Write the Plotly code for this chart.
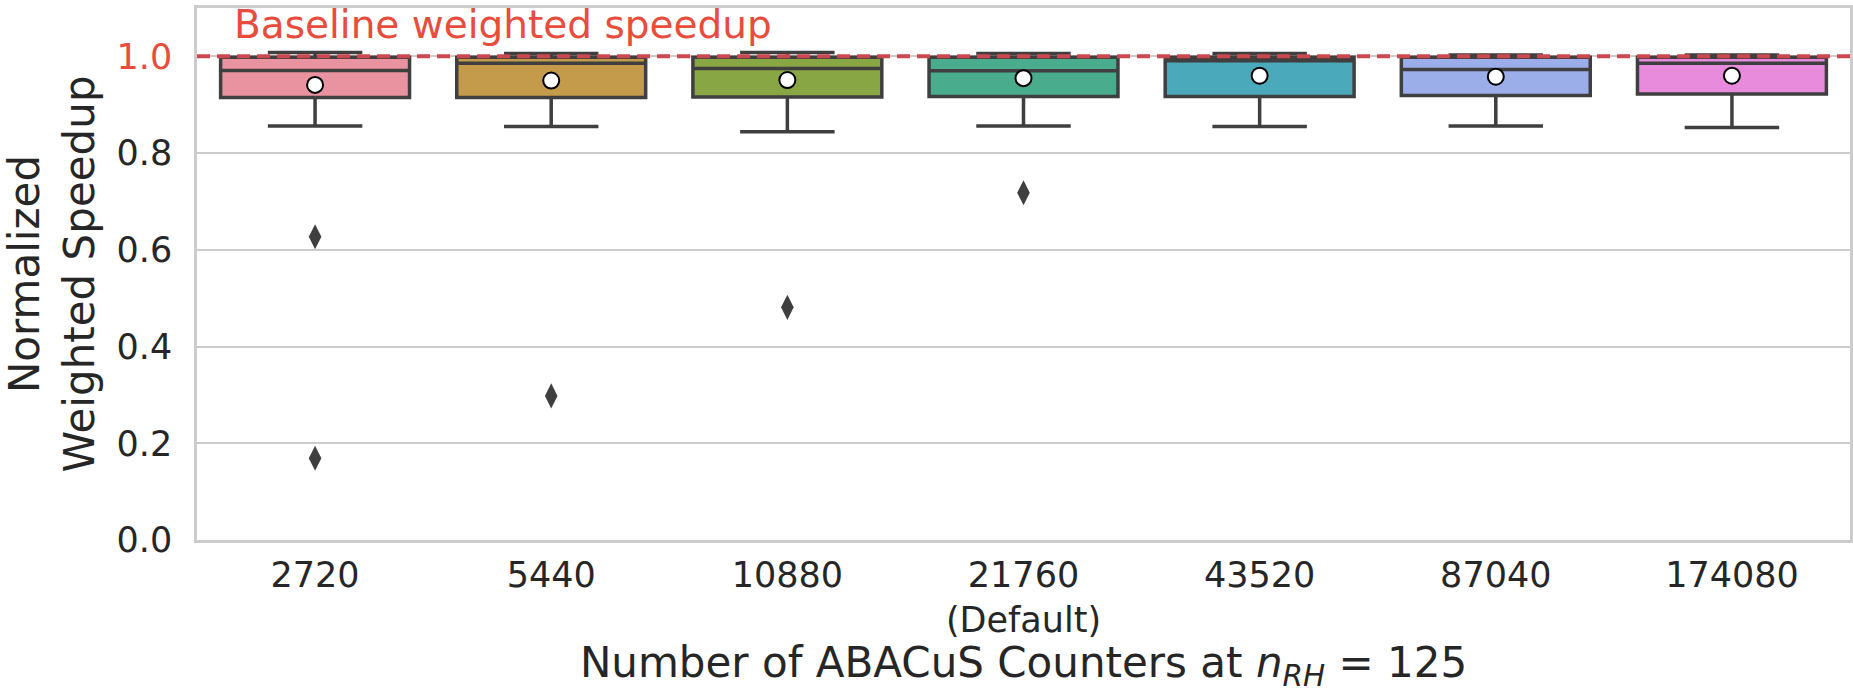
import plotly.graph_objects as go

# ---- data ----
categories = ["2720", "5440", "10880", "21760", "43520", "87040", "174080"]
tick_labels = ["2720", "5440", "10880", "21760<br>(Default)", "43520", "87040", "174080"]
q1_vals = [0.915, 0.915, 0.916, 0.917, 0.917, 0.919, 0.922]
median_vals = [0.971, 0.986, 0.975, 0.970, 0.991, 0.973, 0.986]
q3_vals = [0.998, 0.998, 0.998, 0.998, 0.998, 0.998, 0.998]
lower_whisker = [0.856, 0.855, 0.844, 0.856, 0.855, 0.856, 0.853]
upper_whisker = [1.008, 1.006, 1.008, 1.006, 1.006, 1.003, 1.003]
mean_vals = [0.941, 0.950, 0.951, 0.955, 0.960, 0.958, 0.960]
outlier_cats = ["2720", "2720", "5440", "10880", "21760"]
outlier_vals = [0.627, 0.169, 0.298, 0.481, 0.718]
box_colors = ["#e8939f", "#c49a4b", "#88a643", "#48ac8d", "#4aa9ba", "#9caeea", "#e98bdc"]
y_ticks = [0.0, 0.2, 0.4, 0.6, 0.8, 1.0]
baseline = 1.0

FONT = "DejaVu Sans"
TEXT = "#262626"
RED = "#e74c3c"
EDGE = "#3f3f3f"

fig = go.Figure()
for i, cat in enumerate(categories):
    fig.add_trace(go.Box(
        x=[cat], q1=[q1_vals[i]], median=[median_vals[i]], q3=[q3_vals[i]],
        lowerfence=[lower_whisker[i]], upperfence=[upper_whisker[i]],
        fillcolor=box_colors[i], line=dict(color=EDGE, width=3.5),
        width=0.8, whiskerwidth=0.5, boxpoints=False, showlegend=False,
        hoverinfo="skip"))

fig.add_trace(go.Scatter(
    x=outlier_cats, y=outlier_vals, mode="markers", showlegend=False,
    marker=dict(symbol="diamond-tall", size=18, color=EDGE, line=dict(width=0))))

fig.add_trace(go.Scatter(
    x=categories, y=mean_vals, mode="markers", showlegend=False,
    marker=dict(symbol="circle", size=16, color="white",
                line=dict(color="black", width=2))))

fig.add_shape(type="line", xref="paper", yref="y", x0=0, x1=1, y0=baseline, y1=baseline,
              line=dict(color="#c9494e", width=4, dash="13px,7px"), layer="above")

fig.add_annotation(text="Baseline weighted speedup", xref="paper", yref="paper",
                   x=0.0212, y=0.9695, xanchor="left", yanchor="middle",
                   showarrow=False, font=dict(family=FONT, size=39, color=RED))

y_ticktext = [f"{v:.1f}" for v in y_ticks]
y_ticktext[-1] = f"<span style='color:{RED}'>{y_ticks[-1]:.1f}</span>"

fig.update_layout(
    width=1853, height=693,
    margin=dict(l=197, r=3, t=8, b=153),
    paper_bgcolor="white", plot_bgcolor="white",
    font=dict(family=FONT, color=TEXT),
    boxmode="overlay",
    xaxis=dict(
        type="category", categoryorder="array", categoryarray=categories,
        tickvals=categories, ticktext=tick_labels, range=[-0.5, 6.5],
        showgrid=False, showline=True, mirror=True, linecolor="#cccccc", linewidth=2.5,
        ticks="", tickfont=dict(size=35, color=TEXT), ticklabelstandoff=2,
        automargin=False,
        title=dict(text="Number of ABACuS Counters at <i>n<sub>RH</sub></i> = 125",
                   font=dict(size=42, color=TEXT), standoff=30),
    ),
    yaxis=dict(
        range=[0, 1.1], tickvals=y_ticks, ticktext=y_ticktext,
        showgrid=True, gridcolor="#cccccc", gridwidth=2, zeroline=False,
        showline=True, mirror=True, linecolor="#cccccc", linewidth=2.5,
        ticks="", tickfont=dict(size=35, color=TEXT), ticklabelstandoff=15,
        automargin=False,
        title=dict(text="Normalized<br>Weighted Speedup",
                   font=dict(size=42, color=TEXT), standoff=17),
    ),
)

fig.write_html("out.html",
               config={"displayModeBar": False},
               post_script="document.body.style.margin='0px';document.body.style.overflow='hidden';")
